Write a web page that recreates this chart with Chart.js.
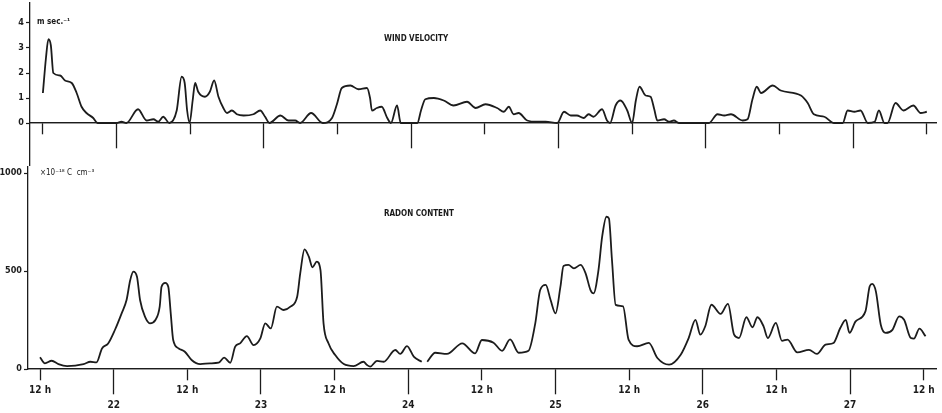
<!DOCTYPE html>
<html>
<head>
<meta charset="utf-8">
<script src="https://cdn.jsdelivr.net/npm/chart.js@4"></script>
<style>
body{margin:0;background:#fff;}
#wrap{position:relative;width:942px;height:413px;overflow:hidden;background:#fff;}
canvas{position:absolute;left:0;}
.lbl{position:absolute;font-family:"DejaVu Sans Condensed","DejaVu Sans",sans-serif;font-weight:bold;color:#1a1a1a;white-space:nowrap;}
</style>
</head>
<body>
<div id="wrap">
<canvas id="windChart" width="942" height="166" style="top:0"></canvas>
<canvas id="radonChart" width="942" height="247" style="top:166px"></canvas>
<div class="lbl" style="left:37px;top:17px;font-size:8px">m sec.⁻¹</div>
<div class="lbl" style="left:384px;top:34px;font-size:8px">WIND VELOCITY</div>
<div class="lbl" style="left:40px;top:168px;font-size:8px;font-weight:normal">×10⁻¹⁸ C &nbsp;cm⁻³</div>
<div class="lbl" style="left:384px;top:209px;font-size:8px">RADON CONTENT</div>
</div>
<script>
// time axis: hours counted from noon of day 21
let halfDayHours=[0,24,48,72,96,120,144]
let halfDayLabels=["12 h","12 h","12 h","12 h","12 h","12 h","12 h"]
let dayHours=[12,36,60,84,108,132]
let dayLabels=["22","23","24","25","26","27"]

let windTicks=[0,1,2,3,4]
let radonTicks=[0,500,1000]

// wind velocity, m/s
let windHours=[0,0.5,0.9,1.3,1.7,2.8,3.6,4.7,5.5,6.3,7.1,8.2,8.9,12,12.8,13.6,15.5,16.9,18,18.8,19.6,20.6,
  21.8,22.6,23.1,23.5,23.9,24.4,24.8,25.3,26.4,27.2,27.9,28.6,29.4,30,30.8,31.6,32.7,34.3,35.4,36.2,36.9,
  38.7,40,41.1,41.9,43.7,45.6,47.1,47.9,48.7,50.1,51.4,52.8,53.3,53.6,54.4,55.2,56.1,56.7,57.7,58.3,61,
  61.6,62.3,63.7,65.3,66.9,69.1,70.5,72.1,74,75.1,75.9,76.7,77.5,78.9,80.5,81.9,83.8,84.9,86,87,88.1,88.9,
  89.7,91.1,91.9,92.4,93.3,94.1,95.2,96,96.6,97.2,98.2,99,99.6,100.1,101.2,102,102.8,103.6,108.5,109.9,
  111,112.1,114,114.8,115.6,116.3,117,118.9,120.2,123.5,124.6,125.6,127.3,128.9,130.3,131.1,132.2,133.2,
  134.4,135.5,136.2,137.1,137.6,138.9,140.2,141.8,143,144]
let windSpeed=[1.2,2.6,3.35,3.1,2.0,1.9,1.7,1.6,1.2,0.65,0.4,0.2,0,0,0.05,0,0.55,0.1,0.15,0.05,0.25,0,
  0.5,1.85,1.6,0.5,0,0.9,1.6,1.25,1.05,1.25,1.7,1.05,0.6,0.4,0.5,0.35,0.3,0.35,0.5,0.25,0,
  0.3,0.1,0.1,0,0.4,0,0.2,0.75,1.4,1.5,1.35,1.4,1.0,0.5,0.6,0.65,0.2,0,0.7,0,0,
  0.5,0.95,1.0,0.9,0.7,0.85,0.6,0.75,0.6,0.45,0.65,0.35,0.4,0.1,0.05,0.05,0,0.45,0.3,0.3,0.2,0.35,
  0.25,0.55,0.1,0,0.7,0.9,0.5,0,0.9,1.45,1.1,1.05,0.55,0.1,0.15,0.05,0.1,0,0,0.35,
  0.3,0.35,0.1,0.15,0.95,1.45,1.2,1.5,1.3,1.1,0.8,0.35,0.25,0,0,0.5,0.45,0.5,
  0,0.05,0.5,0,0,0.8,0.5,0.7,0.4,0.45]

// radon content, x 10^-18 C cm^-3 (null = break in record)
let radonHours=[0,0.8,1.9,3,4.4,7.1,8.2,9.2,10.1,11.1,12.2,13.3,14.1,14.7,15.2,15.8,16.3,17.1,17.9,18.8,
  19.5,19.8,20.4,20.9,21.3,21.7,22.6,23.6,24.7,26.1,27.7,29.1,30,31,31.8,32.6,33.7,34.8,35.9,36.7,37.6,
  38.6,39.7,40.8,41.9,42.4,43.1,43.8,44.4,45.1,45.7,46.2,47,48.1,49.5,51.1,52.7,53.3,53.8,54.9,56,57.9,
  58.7,59.8,60.9,62.2,62.6,63.1,64.4,66.3,68.8,70.9,72,73.9,75.3,76.6,78,79.6,80.7,81.5,82.4,83.2,84,
  84.8,85.3,86.1,87,88.1,88.9,89.7,90.2,91,91.6,92.3,92.7,93.2,93.8,95,95.9,97.3,99.2,100.6,102.5,104.4,
  105.7,106.8,107.6,108.4,109.4,110.9,112.1,113.1,113.9,115.1,116.1,116.9,117.9,118.6,119.9,120.9,121.8,
  123.4,125.3,126.6,128,129.3,130.4,131.3,131.9,132.9,134.5,135.2,135.6,136.2,137,137.8,138.9,140,140.8,
  141.9,142.4,143.3,144.3]
let radonValues=[60,29,42,25,15,25,37,34,105,130,199,284,352,454,497,471,352,267,233,250,
  318,420,440,420,284,148,105,88,46,25,29,32,58,32,114,131,168,122,156,233,207,
  318,301,318,369,488,611,573,519,548,505,233,131,71,25,15,37,20,12,41,37,97,
  77,117,63,37,null,37,83,77,131,80,148,134,93,151,83,93,233,403,429,352,284,
  420,526,531,514,531,488,403,386,505,675,777,769,556,327,320,150,116,133,56,22,73,
  158,251,175,218,328,281,332,175,158,264,213,264,218,158,235,144,150,
  85,98,77,124,133,209,251,184,243,294,422,434,396,226,184,200,269,251,
  158,155,206,167]

let ink="#1c1c1c"
let tickFont={family:"'DejaVu Sans Condensed','DejaVu Sans',sans-serif",size:10,weight:"bold"}
let valueFont={family:"'DejaVu Sans Condensed','DejaVu Sans',sans-serif",size:9,weight:"bold"}

function toPoints(xs,ys){
  return xs.map((x,i)=>({x:x,y:ys[i]}))
}

function noPad(w){
  return function(s){
    s.paddingTop=0; s.paddingBottom=0; s.paddingLeft=0; s.paddingRight=0
    if(w) s.width=w
  }
}

function timeAxis(min,max,hours,labels,len,pad,showLabels){
  return {
    type:"linear", axis:"x", min:min, max:max, position:{y:0},
    afterBuildTicks:s=>{ s.ticks=hours.map(v=>({value:v})) },
    afterFit:noPad(),
    ticks:{display:showLabels, color:ink, font:tickFont, padding:pad, maxRotation:0, autoSkip:false,
      callback:(v,i)=>labels[i]},
    grid:{drawOnChartArea:false, tickLength:len, tickColor:ink, tickWidth:1.3},
    border:{color:ink, width:1.3}
  }
}

function valueAxis(min,max,ticks,w){
  return {
    type:"linear", min:min, max:max,
    afterBuildTicks:s=>{ s.ticks=ticks.map(v=>({value:v})) },
    afterFit:noPad(w),
    ticks:{color:ink, font:valueFont, padding:2, callback:v=>String(v)},
    grid:{drawOnChartArea:false, tickLength:4, tickColor:ink, tickWidth:1.2},
    border:{color:ink, width:1.3}
  }
}

let lineStyle={borderColor:ink, borderWidth:1.8, pointRadius:0, fill:false,
  cubicInterpolationMode:"monotone", spanGaps:false}

new Chart(document.getElementById("windChart"),{
  type:"line",
  data:{datasets:[Object.assign({label:"wind velocity", data:toPoints(windHours,windSpeed),
    xAxisID:"xHalf", yAxisID:"y"},lineStyle)]},
  options:{
    responsive:false, animation:false,
    layout:{padding:{top:3,bottom:0,left:0,right:6}},
    plugins:{legend:{display:false},tooltip:{enabled:false}},
    scales:{
      y:valueAxis(-1.72,4.8,windTicks,30),
      xHalf:timeAxis(-2.1,145.5,halfDayHours,halfDayLabels,11,3,false),
      xDay:timeAxis(-2.1,145.5,dayHours,dayLabels,25,3,false)
    }
  }
})

new Chart(document.getElementById("radonChart"),{
  type:"line",
  data:{datasets:[Object.assign({label:"radon content", data:toPoints(radonHours,radonValues),
    xAxisID:"xHalf", yAxisID:"y"},lineStyle)]},
  options:{
    responsive:false, animation:false,
    layout:{padding:{top:0,bottom:44,left:0,right:6}},
    plugins:{legend:{display:false},tooltip:{enabled:false}},
    scales:{
      y:valueAxis(0,1036,radonTicks,28),
      xHalf:timeAxis(-1.96,146,halfDayHours,halfDayLabels,11,4,true),
      xDay:timeAxis(-1.96,146,dayHours,dayLabels,25,5,true)
    }
  }
})
</script>
</body>
</html>
